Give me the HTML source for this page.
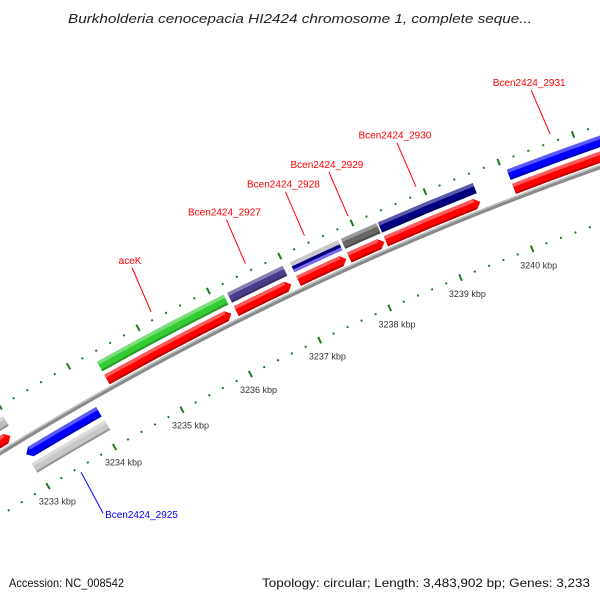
<!DOCTYPE html>
<html><head><meta charset="utf-8"><style>
html,body{margin:0;padding:0;background:#fff;width:600px;height:600px;overflow:hidden}
svg{display:block;overflow:hidden}
text{font-family:"Liberation Sans",sans-serif}
</style></head><body>
<svg id="map" width="600" height="600" viewBox="0 0 600 600">
<text x="300" y="23" text-anchor="middle" font-size="13" font-style="italic" fill="#222" textLength="464" lengthAdjust="spacingAndGlyphs">Burkholderia cenocepacia HI2424 chromosome 1, complete seque...</text>
<g id="ticks"></g>
<g id="backbone"></g>
<g id="feats"></g>
<g id="labels"></g>
<text x="9" y="587" font-size="12" fill="#111" textLength="115" lengthAdjust="spacingAndGlyphs">Accession: NC_008542</text>
<text x="262" y="587" font-size="12" fill="#111" textLength="328" lengthAdjust="spacingAndGlyphs">Topology: circular; Length: 3,483,902 bp; Genes: 3,233</text>
</svg>
<script>
// data (kbp)
const featNames=["left-fwd","left-gray","Bcen2424_2925","Bcen2424_2925-cds","aceK","aceK-cds","Bcen2424_2927","Bcen2424_2927-cds","Bcen2424_2928-a","Bcen2424_2928-b","Bcen2424_2928-c","Bcen2424_2928-cds","Bcen2424_2929","Bcen2424_2929-cds","Bcen2424_2930","Bcen2424_2930-cds","Bcen2424_2931","Bcen2424_2931-cds"];
const featStart=[3229.5,3229.5,3232.97,3232.97,3234.34,3234.34,3236.2,3236.2,3237.08,3237.08,3237.08,3237.08,3237.79,3237.79,3238.3,3238.3,3240.06,3240.06];
const featEnd=[3232.92,3232.97,3234.06,3234.05,3236.15,3236.13,3236.98,3236.98,3237.75,3237.75,3237.75,3237.75,3238.28,3238.28,3239.6,3239.6,3243,3243];
const featTrack=["f1","f2","i2","i1","f2","f1","f2","f1","f2a","f2b","f2c","f1","f2","f1","f2","f1","f2","f1"];
const featStrand=[1,0,0,-1,0,1,0,1,0,0,0,1,0,1,0,1,0,1];
const featColor=["#ff0000","#c0c0c0","#c8c8c8","#0000ff","#33cc33","#ff0000","#483d8b","#ff0000","#c8c8c8","#000080","#7b68ee","#ff0000","#666666","#ff0000","#000080","#ff0000","#0000ff","#ff0000"];
const tickLabelKbp=[3233,3234,3235,3236,3237,3238,3239,3240];
const labelTexts=["aceK","Bcen2424_2927","Bcen2424_2928","Bcen2424_2929","Bcen2424_2930","Bcen2424_2931","Bcen2424_2925"];
const labelKbp=[3235.24,3236.57,3237.39,3237.99,3238.92,3240.73,3233.46];
const labelSide=[1,1,1,1,1,1,-1];

const NS="http://www.w3.org/2000/svg";
const cx=1642.7, cy=3127;
const trackR={f1:[3142,3153],f2:[3157,3168],f2a:[3163.5,3168],f2b:[3160,3163.5],f2c:[3157,3160],i1:[3118,3129],i2:[3102,3113]};
function ang(k){return (-118.26+(k-3235)*1.432)*Math.PI/180;}
function pt(k,r){const a=ang(k);return [(cx+r*Math.cos(a)).toFixed(2),(cy+r*Math.sin(a)).toFixed(2)];}
function band(k1,k2,r0,r1){
  return `M${pt(k1,r1)} A${r1} ${r1} 0 0 1 ${pt(k2,r1)} L${pt(k2,r0)} A${r0} ${r0} 0 0 0 ${pt(k1,r0)}Z`;
}
function arrowF(k1,k2,r0,r1,h){const m=(r0+r1)/2;
  return `M${pt(k1,r1)} A${r1} ${r1} 0 0 1 ${pt(k2-h,r1)} L${pt(k2,m)} L${pt(k2-h,r0)} A${r0} ${r0} 0 0 0 ${pt(k1,r0)}Z`;}
function arrowR(k1,k2,r0,r1,h){const m=(r0+r1)/2;
  return `M${pt(k1,m)} L${pt(k1+h,r1)} A${r1} ${r1} 0 0 1 ${pt(k2,r1)} L${pt(k2,r0)} A${r0} ${r0} 0 0 0 ${pt(k1+h,r0)}Z`;}
function mk(tag,attrs,parent){const e=document.createElementNS(NS,tag);for(const k in attrs)e.setAttribute(k,attrs[k]);parent.appendChild(e);return e;}

// ticks
const tg=document.getElementById('ticks');
[3178,3085].forEach(function(r){
  for(let i=3229*5;i<=3243*5;i++){
    const k=i/5, major=(i%5===0);
    const a=major?pt(k,r-3.5):pt(k,r-1), b=major?pt(k,r+3.5):pt(k,r+1);
    const ln=mk('line',{x1:a[0],y1:a[1],x2:b[0],y2:b[1],stroke:'#1f7a1f','stroke-width':2},tg);
    
    
  }
});
tickLabelKbp.forEach(function(k){
  const p=pt(k,3067);
  const t=mk('text',{x:p[0],y:p[1],'text-anchor':'middle','dominant-baseline':'central','font-size':9,fill:'#333'},tg);
  t.textContent=k+' kbp';
  
  
});

// backbone
const bb=document.getElementById('backbone');
let e=mk('path',{d:band(3229,3243,3136,3140.5),fill:'#8a8a8a'},bb);


e=mk('path',{d:band(3229,3243,3139,3140.5),fill:'#c4c4c4'},bb);



// features
const fg=document.getElementById('feats');
const H=0.07;
featNames.forEach(function(n,i){
  const r=trackR[featTrack[i]], k1=featStart[i], k2=featEnd[i], s=featStrand[i];
  const d= s===1?arrowF(k1,k2,r[0],r[1],H): s===-1?arrowR(k1,k2,r[0],r[1],H): band(k1,k2,r[0],r[1]);
  const p=mk('path',{d:d,fill:featColor[i]},fg);
  
  
  if(r[1]-r[0]>6){
    const hk1=s===-1?k1+H:k1, hk2=s===1?k2-H:k2;
    const hl=mk('path',{d:band(hk1,hk2,r[1]-3.5,r[1]),fill:'#fff','fill-opacity':0.35},fg);
    
    
    const sh=mk('path',{d:band(hk1,hk2,r[0],r[0]+2),fill:'#000','fill-opacity':0.25},fg);
    
    
  }
});

// labels
const lg=document.getElementById('labels');
labelTexts.forEach(function(txt,i){
  const k=labelKbp[i], side=labelSide[i];
  const col= side===1?'#ff0000':'#0000ff';
  const a=side===1?pt(k,3186):pt(k,3080);
  const ax=+a[0], ay=+a[1];
  const bx= side===1?ax-19:ax+22, by= side===1?ay-44:ay+41;
  const l=mk('line',{x1:ax,y1:ay,x2:bx,y2:by,stroke:col,'stroke-width':1},lg);
  
  
  const t=mk('text',{'font-size':10,fill:col},lg);
  if(side===1){t.setAttribute('x',bx-2);t.setAttribute('y',by-4);t.setAttribute('text-anchor','middle');}
  else{t.setAttribute('x',bx+2);t.setAttribute('y',by+5);t.setAttribute('text-anchor','start');}
  t.textContent=txt;
  
  
});
</script>
</body></html>
